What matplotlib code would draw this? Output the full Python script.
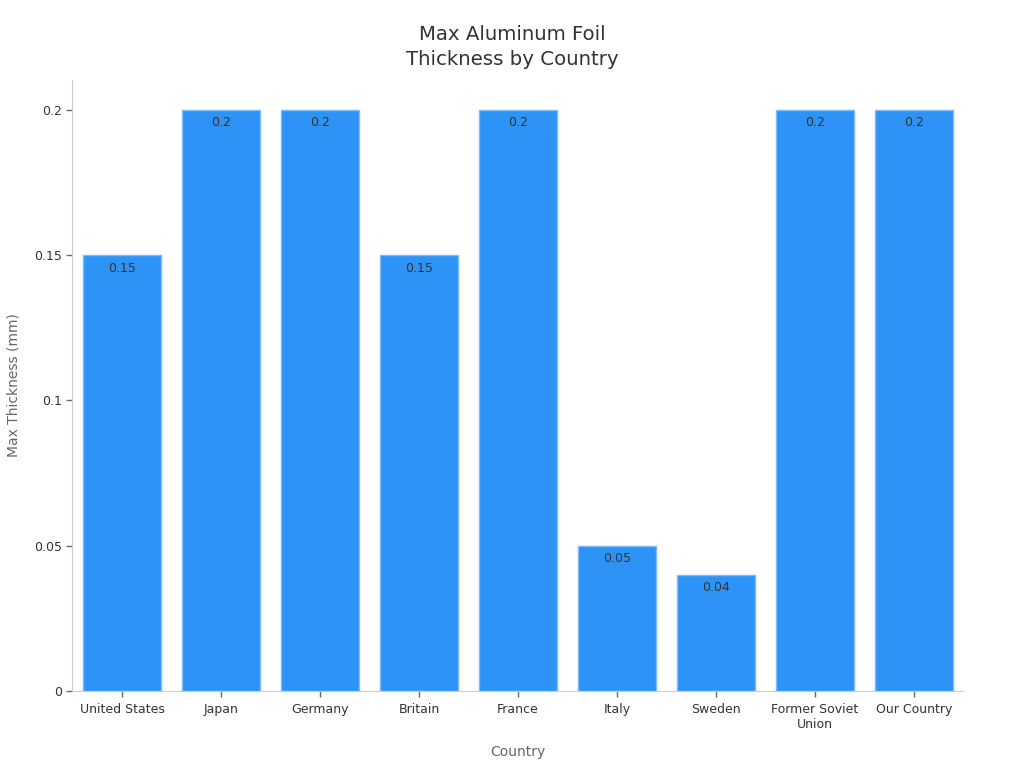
import matplotlib
matplotlib.use("Agg")
import matplotlib.pyplot as plt

countries = ["United States", "Japan", "Germany", "Britain", "France", "Italy",
             "Sweden", "Former Soviet\nUnion", "Our Country"]
thickness = [0.15, 0.2, 0.2, 0.15, 0.2, 0.05, 0.04, 0.2, 0.2]
yticks = [0, 0.05, 0.1, 0.15, 0.2]
ytick_labels = ["0", "0.05", "0.1", "0.15", "0.2"]

plt.rcParams['font.family'] = ['DejaVu Sans']
fig = plt.figure(figsize=(10.24, 7.68), dpi=100)
ax = fig.add_axes([0.0708, 0.1003, 0.8701, 0.7955])

x = list(range(len(countries)))
bars = ax.bar(x, thickness, width=0.79, color="#2E93F7", edgecolor="#7DBBF7", linewidth=1)
for xi, v in zip(x, thickness):
    ax.text(xi, v - 0.0022, f"{v:g}", ha="center", va="top", fontsize=9, color="#333333")

ax.set_xlim(-0.5, len(countries) - 0.5)
ax.set_ylim(0, 0.2103)
ax.set_xticks(x)
ax.set_xticklabels(countries, fontsize=9, color="#333333")
ax.set_yticks(yticks)
ax.set_yticklabels(ytick_labels, fontsize=9, color="#333333")
ax.tick_params(axis="x", colors="#666666", labelcolor="#333333", length=4, width=1, pad=4.5)
ax.tick_params(axis="y", colors="#666666", labelcolor="#333333", length=4, width=1)
for s in ["top", "right"]:
    ax.spines[s].set_visible(False)
for s in ["left", "bottom"]:
    ax.spines[s].set_color("#CCCCCC")
ax.set_xlabel("Country", fontsize=10, color="#666666", labelpad=10)
ax.set_ylabel("Max Thickness (mm)", fontsize=10, color="#666666", labelpad=10)
fig.text(0.5, 1 - 47 / 768, "Max Aluminum Foil\nThickness by Country", fontsize=14.2,
         color="#333333", ha="center", va="center", linespacing=1.4)

fig.savefig("out.png", dpi=100)
